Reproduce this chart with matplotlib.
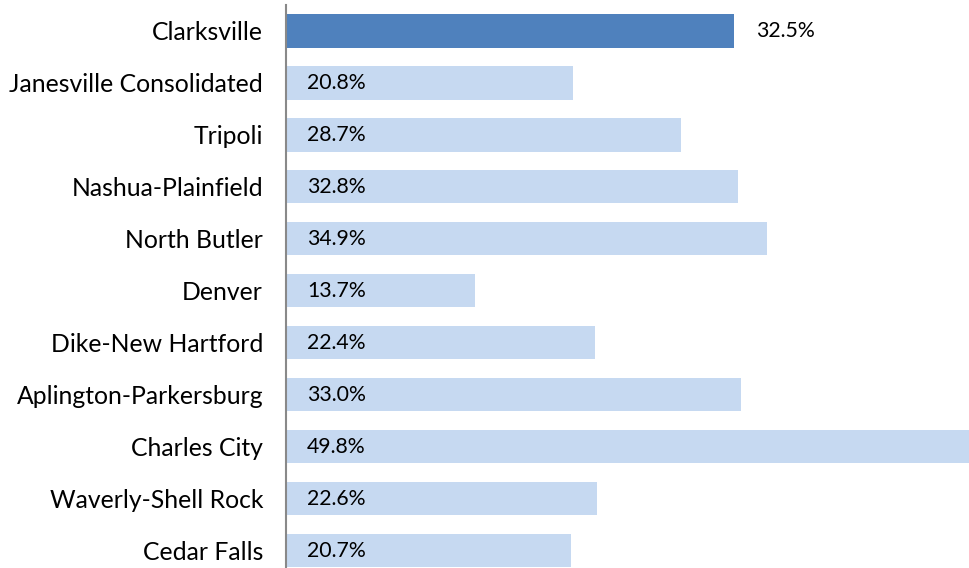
import matplotlib
matplotlib.use("Agg")
import matplotlib.pyplot as plt

categories = ["Clarksville", "Janesville Consolidated", "Tripoli", "Nashua-Plainfield",
              "North Butler", "Denver", "Dike-New Hartford", "Aplington-Parkersburg",
              "Charles City", "Waverly-Shell Rock", "Cedar Falls"]
values = [32.5, 20.8, 28.7, 32.8, 34.9, 13.7, 22.4, 33.0, 49.8, 22.6, 20.7]
highlight = "Clarksville"

plt.rcParams['font.family'] = ['Lato', 'DejaVu Sans']

fig = plt.figure(figsize=(9.69, 5.68), dpi=100)
ax = fig.add_axes([286/969, -8.5/568, 683/969, 571.5/568])

dark = "#4F81BD"
light = "#C6D9F1"
colors = [dark if c == highlight else light for c in categories]
ypos = list(range(len(categories)))
ax.barh(ypos, values, height=0.64, color=colors, zorder=2)

ax.set_xlim(0, 683/13.78)
ax.set_ylim(len(categories) - 0.5, -0.5)
ax.set_yticks(ypos)
ax.set_yticklabels(categories, fontsize=17.8, color="#000000")
ax.tick_params(axis='y', length=0, pad=16.5)
ax.set_xticks([])
for s in ["top", "right", "bottom"]:
    ax.spines[s].set_visible(False)
ax.spines["left"].set_color("#898989")
ax.spines["left"].set_linewidth(1.5)
ax.spines["left"].set_zorder(3)

for y, (c, v) in enumerate(zip(categories, values)):
    if c == highlight:
        ax.annotate(f"{v:.1f}%", xy=(v, y), xytext=(16, 0), textcoords="offset points",
                    ha="left", va="center", fontsize=15.3, color="#000000")
    else:
        ax.annotate(f"{v:.1f}%", xy=(0, y), xytext=(15, 0), textcoords="offset points",
                    ha="left", va="center", fontsize=15.3, color="#000000")

fig.savefig("out.png", dpi=100)
